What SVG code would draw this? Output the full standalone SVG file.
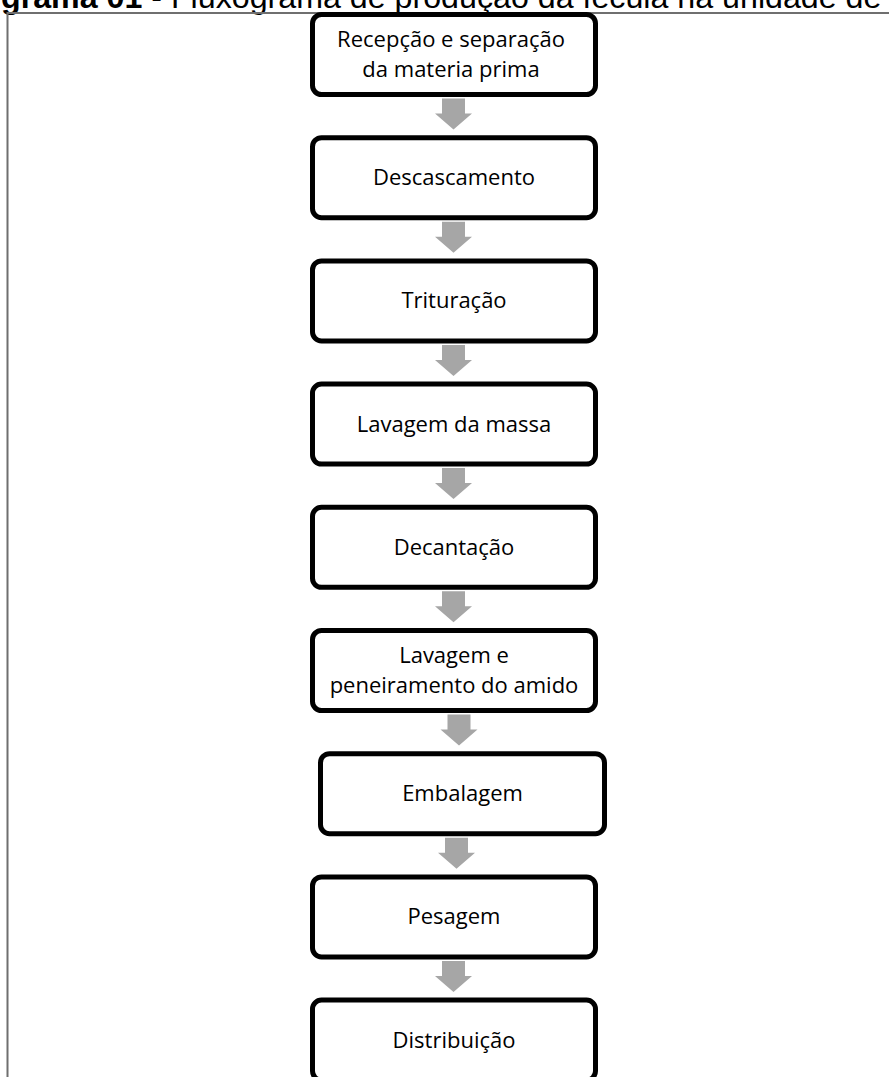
<svg xmlns="http://www.w3.org/2000/svg" width="889" height="1077" viewBox="0 0 889 1077">
<style>
.frame{fill:none;stroke:#6f6f6f;stroke-width:2}
.box{fill:#ffffff;stroke:#000000;stroke-width:5}
.arr{fill:#a6a6a6}
.lbl{font-family:"Open Sans","Liberation Sans",sans-serif;font-size:22px;fill:#000000;text-anchor:middle}
.title{font-family:"Liberation Sans",Arial,sans-serif;font-size:32.2px;fill:#000000}
</style>
<rect width="889" height="1077" fill="#ffffff"/>
<text class="title" x="1" y="7.5"><tspan font-weight="bold">grama 01</tspan> - Fluxograma de produção da fécula na unidade de</text>
<rect class="frame" x="7.5" y="13" width="920" height="1100"/>
<g id="connectors">
<path class="arr" d="M442,98.5 H465 V113.5 H472 L453.5,129.5 L435,113.5 H442 Z"/>
<path class="arr" d="M442,221.7 H465 V236.7 H472 L453.5,252.7 L435,236.7 H442 Z"/>
<path class="arr" d="M442,344.9 H465 V359.9 H472 L453.5,375.9 L435,359.9 H442 Z"/>
<path class="arr" d="M442,468.1 H465 V483.1 H472 L453.5,499.1 L435,483.1 H442 Z"/>
<path class="arr" d="M442,591.3 H465 V606.3 H472 L453.5,622.3 L435,606.3 H442 Z"/>
<path class="arr" d="M447.5,714.5 H470.5 V729.5 H477.5 L459,745.5 L440.5,729.5 H447.5 Z"/>
<path class="arr" d="M445,837.7 H468 V852.7 H475 L456.5,868.7 L438,852.7 H445 Z"/>
<path class="arr" d="M442,960.9 H465 V975.9 H472 L453.5,991.9 L435,975.9 H442 Z"/>
</g>
<g id="n1"><rect class="box" x="312.5" y="14.5" width="283" height="80" rx="9"/><text class="lbl" x="451" y="47">Recepção e separação</text><text class="lbl" x="451" y="76.5">da materia prima</text></g>
<g id="n2"><rect class="box" x="312.5" y="137.7" width="283" height="80" rx="9"/><text class="lbl" x="454" y="185.2">Descascamento</text></g>
<g id="n3"><rect class="box" x="312.5" y="260.9" width="283" height="80" rx="9"/><text class="lbl" x="454" y="308.4">Trituração</text></g>
<g id="n4"><rect class="box" x="312.5" y="384.1" width="283" height="80" rx="9"/><text class="lbl" x="454" y="431.6">Lavagem da massa</text></g>
<g id="n5"><rect class="box" x="312.5" y="507.3" width="283" height="80" rx="9"/><text class="lbl" x="454" y="554.8">Decantação</text></g>
<g id="n6"><rect class="box" x="312.5" y="630.5" width="283" height="80" rx="9"/><text class="lbl" x="454" y="663">Lavagem e</text><text class="lbl" x="454" y="692.5">peneiramento do amido</text></g>
<g id="n7"><rect class="box" x="320.5" y="753.7" width="284" height="80" rx="9"/><text class="lbl" x="462.5" y="801.2">Embalagem</text></g>
<g id="n8"><rect class="box" x="312.5" y="876.9" width="283" height="80" rx="9"/><text class="lbl" x="454" y="924.4">Pesagem</text></g>
<g id="n9"><rect class="box" x="312.5" y="1000.1" width="283" height="80" rx="9"/><text class="lbl" x="454" y="1047.6">Distribuição</text></g>
</svg>
